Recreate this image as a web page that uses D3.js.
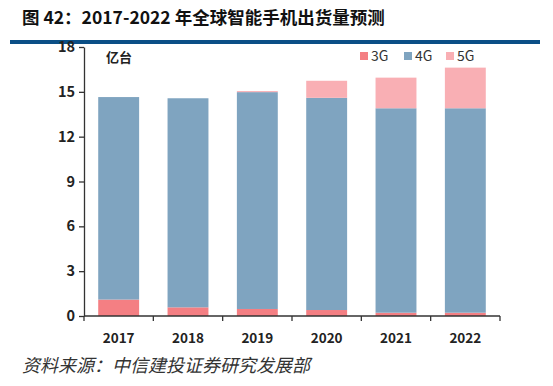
<!DOCTYPE html>
<html>
<head>
<meta charset="utf-8">
<script src="https://cdn.jsdelivr.net/npm/d3@7"></script>
<style>
  body { margin: 0; background: #fff; }
  text { font-family: "Noto Sans CJK SC", "Liberation Sans", sans-serif; }
</style>
</head>
<body>
<svg id="chart" width="553" height="386"></svg>
<script>
// data (亿台)
const years = ["2017", "2018", "2019", "2020", "2021", "2022"];
const series = ["3G", "4G", "5G"];
const g3 = [1.1, 0.58, 0.47, 0.4, 0.22, 0.22];
const g4 = [13.55, 13.99, 14.51, 14.2, 13.68, 13.68];
const g5 = [0, 0, 0.07, 1.14, 2.05, 2.72];
const yTicks = [0, 3, 6, 9, 12, 15, 18];

const colors = { "3G": "#f47f83", "4G": "#7fa4c0", "5G": "#f9afb4" };

const svg = d3.select("#chart");
const margin = { left: 84, right: 53, top: 47, bottom: 70 };
const width = 553 - margin.left - margin.right;
const height = 386 - margin.top - margin.bottom;

// title and blue rule
svg.append("text")
  .attr("x", 22).attr("y", 24)
  .attr("font-size", 17.5).attr("font-weight", "bold").attr("fill", "#111")
  .text("图 42：2017-2022 年全球智能手机出货量预测");

svg.append("rect")
  .attr("x", 10).attr("y", 40).attr("width", 530).attr("height", 4)
  .attr("fill", "#0b4f86");

const chart = svg.append("g")
  .attr("transform", "translate(" + margin.left + "," + margin.top + ")");

const x = d3.scaleBand()
  .domain(years)
  .range([0, width])
  .paddingInner(0.41)
  .paddingOuter(0.205);

const y = d3.scaleLinear()
  .domain([0, 18])
  .range([height, 0]);

const table = years.map((yr, i) => ({ year: yr, "3G": g3[i], "4G": g4[i], "5G": g5[i] }));
const stacked = d3.stack().keys(series)(table);

chart.selectAll("g.layer")
  .data(stacked)
  .enter()
  .append("g")
  .attr("class", "layer")
  .attr("fill", d => colors[d.key])
  .selectAll("rect")
  .data(d => d)
  .enter()
  .append("rect")
  .attr("x", d => x(d.data.year))
  .attr("y", d => y(d[1]))
  .attr("width", x.bandwidth())
  .attr("height", d => y(d[0]) - y(d[1]));

// y axis
const yAxis = chart.append("g")
  .call(d3.axisLeft(y).tickValues(yTicks).tickSize(5).tickSizeOuter(0));
yAxis.select(".domain").attr("stroke", "#333").attr("stroke-width", 1.3);
yAxis.selectAll(".tick line").attr("stroke", "#333").attr("stroke-width", 1.3);
yAxis.selectAll("text")
  .attr("font-size", 14.5).attr("font-weight", "bold").attr("fill", "#222")
  .attr("x", -9);

// x axis: ticks at band boundaries
const bounds = years.map(d => x(d) - x.step() * x.paddingInner() / 2);
bounds.push(width);
const xAxis = chart.append("g")
  .attr("transform", "translate(0," + height + ")");
xAxis.append("line")
  .attr("x1", 0).attr("x2", width)
  .attr("stroke", "#333").attr("stroke-width", 1.3);
xAxis.selectAll("line.tk")
  .data(bounds)
  .enter()
  .append("line")
  .attr("class", "tk")
  .attr("x1", d => d).attr("x2", d => d)
  .attr("y1", 0).attr("y2", 5)
  .attr("stroke", "#333").attr("stroke-width", 1.3);
xAxis.selectAll("text")
  .data(years)
  .enter()
  .append("text")
  .attr("x", d => x(d) + x.bandwidth() / 2)
  .attr("y", 27)
  .attr("text-anchor", "middle")
  .attr("font-size", 13.5).attr("font-weight", "bold").attr("fill", "#222")
  .text(d => d);

// unit label
chart.append("text")
  .attr("x", 22).attr("y", 15)
  .attr("font-size", 13).attr("font-weight", "bold").attr("fill", "#222")
  .text("亿台");

// legend
const legendX = [276, 320, 362];
const legend = chart.selectAll("g.legend")
  .data(series)
  .enter()
  .append("g")
  .attr("class", "legend")
  .attr("transform", (d, i) => "translate(" + legendX[i] + ",5)");
legend.append("rect")
  .attr("width", 8).attr("height", 8)
  .attr("fill", d => colors[d]);
legend.append("text")
  .attr("x", 11).attr("y", 9)
  .attr("font-size", 14).attr("fill", "#333")
  .text(d => d);

// source
svg.append("text")
  .attr("x", 22).attr("y", 372)
  .attr("font-size", 18).attr("font-style", "italic").attr("fill", "#333")
  .text("资料来源：中信建投证券研究发展部");
</script>
</body>
</html>
